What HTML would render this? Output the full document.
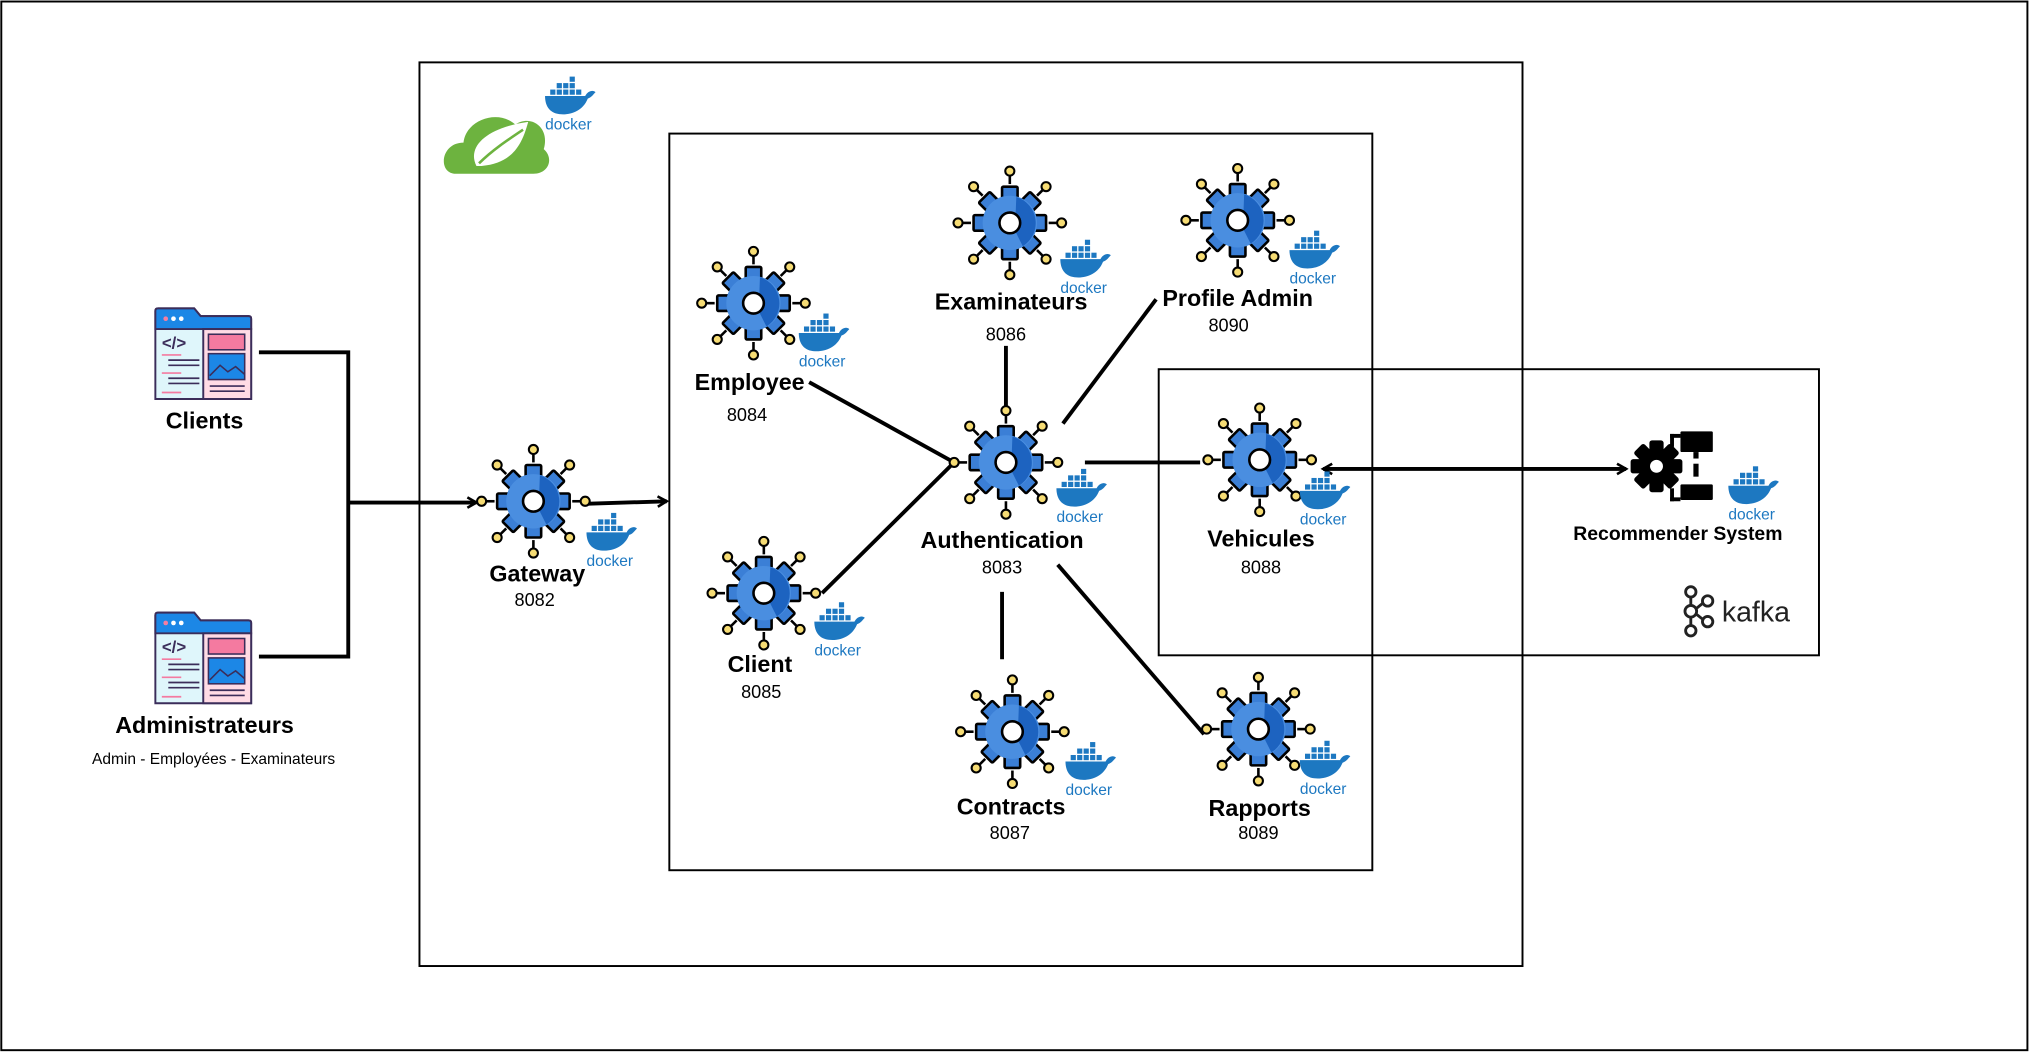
<!DOCTYPE html>
<html><head><meta charset="utf-8"><style>
html,body{margin:0;padding:0;background:#fff;}
svg{display:block;}
text{font-family:"Liberation Sans","DejaVu Sans",sans-serif;fill:#000;}
.b{font-weight:bold;font-size:18px;}
.n{font-size:14px;}
.d{font-size:12px;fill:#1d78c1;}
</style></head><body>
<svg width="2030" height="1053" viewBox="0 0 1568 813" xmlns="http://www.w3.org/2000/svg">
<defs>
<marker id="ah" markerWidth="10" markerHeight="10" refX="8" refY="5" orient="auto" markerUnits="userSpaceOnUse">
<path d="M1,1 L8,5 L1,9" fill="none" stroke="#000" stroke-width="2"/></marker>
<marker id="ahs" markerWidth="10" markerHeight="10" refX="2" refY="5" orient="auto" markerUnits="userSpaceOnUse">
<path d="M9,1 L2,5 L9,9" fill="none" stroke="#000" stroke-width="2"/></marker>
<g id="gear">
  <g stroke="#000" stroke-width="2">
    <line x1="0" y1="-30" x2="0" y2="-40"/><line x1="0" y1="30" x2="0" y2="40"/>
    <line x1="-30" y1="0" x2="-40" y2="0"/><line x1="30" y1="0" x2="40" y2="0"/>
    <line x1="21" y1="-21" x2="28" y2="-28"/><line x1="-21" y1="-21" x2="-28" y2="-28"/>
    <line x1="21" y1="21" x2="28" y2="28"/><line x1="-21" y1="21" x2="-28" y2="28"/>
  </g>
  <g fill="#f6dc74" stroke="#000" stroke-width="1.6">
    <circle cx="0" cy="-40" r="3.5"/><circle cx="0" cy="40" r="3.5"/><circle cx="-40" cy="0" r="3.5"/><circle cx="40" cy="0" r="3.5"/>
    <circle cx="28" cy="-28" r="3.5"/><circle cx="-28" cy="-28" r="3.5"/><circle cx="28" cy="28" r="3.5"/><circle cx="-28" cy="28" r="3.5"/>
  </g>
  <g fill="#3b7fd6" stroke="#000" stroke-width="2">
    <rect x="-6" y="-28" width="12" height="56" rx="1"/>
    <rect x="-6" y="-28" width="12" height="56" rx="1" transform="rotate(45)"/>
    <rect x="-6" y="-28" width="12" height="56" rx="1" transform="rotate(90)"/>
    <rect x="-6" y="-28" width="12" height="56" rx="1" transform="rotate(135)"/>
    <circle r="21" stroke="none"/>
  </g>
  <circle r="21" fill="#4a8ee0"/>
  <path d="M5,-20 A21,21 0 0 1 10,18 L4,6 Z" fill="#1d63c0"/>
  <circle r="8" fill="#fff" stroke="#000" stroke-width="2"/>
</g>
<g id="dk">
  <path d="M-17,-2 L14,-2 C16,-6 20,-7 22,-5 C20,-3 19,-1 16,0 C12,10 2,13 -6,12 C-14,11 -17,5 -17,-2Z" fill="#1d78c1"/>
  <g fill="#1d78c1">
    <rect x="-13" y="-7" width="4" height="4"/><rect x="-8" y="-7" width="4" height="4"/><rect x="-3" y="-7" width="4" height="4"/><rect x="2" y="-7" width="4" height="4"/><rect x="7" y="-7" width="4" height="4"/>
    <rect x="-8" y="-12" width="4" height="4"/><rect x="-3" y="-12" width="4" height="4"/><rect x="2" y="-12" width="4" height="4"/><rect x="2" y="-17" width="4" height="4"/>
  </g>
  <text x="1" y="24" text-anchor="middle" class="d">docker</text>
</g>
<g id="web">
  <path d="M0,2 Q0,0 2,0 L30,0 L35,6 L72,6 Q74,6 74,8 L74,70 L0,70 Z" fill="#dff6fb" stroke="#3b2d5a" stroke-width="1.5"/>
  <path d="M0,2 Q0,0 2,0 L30,0 L35,6 L72,6 Q74,6 74,8 L74,16 L0,16 Z" fill="#1c87e6" stroke="#3b2d5a" stroke-width="1.5"/>
  <circle cx="8" cy="8" r="1.8" fill="#f57ea1"/><circle cx="14" cy="8" r="1.8" fill="#fff"/><circle cx="20" cy="8" r="1.8" fill="#fff"/>
  <rect x="37" y="16" width="37" height="54" fill="#ffdbe5" stroke="#3b2d5a" stroke-width="1.5"/>
  <rect x="41" y="20" width="28" height="12" fill="#f47aa0" stroke="#3b2d5a" stroke-width="1.2"/>
  <rect x="41" y="35" width="28" height="20" fill="#1c87e6" stroke="#3b2d5a" stroke-width="1.2"/>
  <path d="M42,52 L50,44 L56,49 L62,45 L69,51" fill="none" stroke="#3b2d5a" stroke-width="1.2"/>
  <text x="5" y="31" style="font-size:13px;font-weight:bold;fill:#3b2d5a">&lt;/&gt;</text>
  <g stroke="#3b2d5a" stroke-width="1.3"><line x1="10" y1="40" x2="34" y2="40"/><line x1="10" y1="44" x2="34" y2="44"/><line x1="10" y1="54" x2="34" y2="54"/><line x1="10" y1="58" x2="34" y2="58"/><line x1="42" y1="60" x2="69" y2="60"/><line x1="42" y1="64" x2="69" y2="64"/></g>
  <g stroke="#f47aa0" stroke-width="1.3"><line x1="5" y1="36" x2="20" y2="36"/><line x1="5" y1="50" x2="20" y2="50"/><line x1="5" y1="65" x2="20" y2="65"/></g>
</g>
</defs>

<rect x="1" y="1" width="1565" height="810" fill="none" stroke="#000" stroke-width="1.5"/>
<rect x="324" y="48" width="852" height="698" fill="none" stroke="#000" stroke-width="1.5"/>
<rect x="517" y="103" width="543" height="569" fill="none" stroke="#000" stroke-width="1.5"/>
<rect x="895" y="285" width="510" height="221" fill="none" stroke="#000" stroke-width="1.5"/>

<!-- spring cloud -->
<g>
  <path d="M352,134 C338,134 340,110 358,110 C360,92 385,84 398,96 C410,88 425,98 420,115 C428,122 424,134 412,134 Z" fill="#6db33f"/>
  <path d="M368,128 C360,112 378,98 408,94 C404,108 398,126 372,128Z" fill="#fff"/>
  <path d="M370,126 C380,116 392,108 404,100" stroke="#6db33f" stroke-width="2" fill="none"/>
</g>
<use href="#dk" x="438" y="76"/>

<!-- web icons -->
<use href="#web" x="120" y="238"/>
<use href="#web" x="120" y="473"/>
<text x="158" y="331" text-anchor="middle" class="b">Clients</text>
<text x="158" y="566" text-anchor="middle" class="b">Administrateurs</text>
<text x="165" y="590" text-anchor="middle" style="font-size:12px">Admin - Employées  - Examinateurs</text>

<!-- lines -->
<g stroke="#000" stroke-width="3" fill="none">
  <polyline points="200,272 269,272 269,507 200,507"/>
  <line x1="269" y1="388" x2="368" y2="388" marker-end="url(#ah)"/>
  <line x1="452" y1="389" x2="515" y2="387" marker-end="url(#ah)"/>
  <line x1="625" y1="295" x2="737" y2="357"/>
  <line x1="635" y1="458" x2="737" y2="357"/>
  <line x1="777" y1="267" x2="777" y2="315"/>
  <line x1="893" y1="231" x2="821" y2="327"/>
  <line x1="838" y1="357" x2="927" y2="357"/>
  <line x1="774" y1="457" x2="774" y2="509"/>
  <line x1="817" y1="436" x2="930" y2="567"/>
  <line x1="1022" y1="362" x2="1256" y2="362" marker-start="url(#ahs)" marker-end="url(#ah)"/>
</g>

<!-- gears -->
<use href="#gear" x="412" y="387"/><use href="#dk" x="470" y="413"/>
<use href="#gear" x="582" y="234"/><use href="#dk" x="634" y="259"/>
<use href="#gear" x="590" y="458"/><use href="#dk" x="646" y="482"/>
<use href="#gear" x="780" y="172"/><use href="#dk" x="836" y="202"/>
<use href="#gear" x="956" y="170"/><use href="#dk" x="1013" y="195"/>
<use href="#gear" x="777" y="357"/><use href="#dk" x="833" y="379"/>
<use href="#gear" x="973" y="355"/><use href="#dk" x="1021" y="381"/>
<use href="#gear" x="782" y="565"/><use href="#dk" x="840" y="590"/>
<use href="#gear" x="972" y="563"/><use href="#dk" x="1021" y="589"/>

<text x="415" y="449" text-anchor="middle" class="b">Gateway</text>
<text x="413" y="468" text-anchor="middle" class="n">8082</text>
<text x="579" y="301" text-anchor="middle" class="b">Employee</text>
<text x="577" y="325" text-anchor="middle" class="n">8084</text>
<text x="587" y="519" text-anchor="middle" class="b">Client</text>
<text x="588" y="539" text-anchor="middle" class="n">8085</text>
<text x="781" y="239" text-anchor="middle" class="b">Examinateurs</text>
<text x="777" y="263" text-anchor="middle" class="n">8086</text>
<text x="956" y="236" text-anchor="middle" class="b">Profile Admin</text>
<text x="949" y="256" text-anchor="middle" class="n">8090</text>
<text x="774" y="423" text-anchor="middle" class="b">Authentication</text>
<text x="774" y="443" text-anchor="middle" class="n">8083</text>
<text x="974" y="422" text-anchor="middle" class="b">Vehicules</text>
<text x="974" y="443" text-anchor="middle" class="n">8088</text>
<text x="781" y="629" text-anchor="middle" class="b">Contracts</text>
<text x="780" y="648" text-anchor="middle" class="n">8087</text>
<text x="973" y="630" text-anchor="middle" class="b">Rapports</text>
<text x="972" y="648" text-anchor="middle" class="n">8089</text>

<!-- recommender -->
<g>
  <g fill="#000">
    <rect x="1274" y="340" width="11" height="40" rx="2"/>
    <rect x="1274" y="340" width="11" height="40" rx="2" transform="rotate(45 1279.5 360)"/>
    <rect x="1274" y="340" width="11" height="40" rx="2" transform="rotate(90 1279.5 360)"/>
    <rect x="1274" y="340" width="11" height="40" rx="2" transform="rotate(135 1279.5 360)"/>
    <circle cx="1279.5" cy="360" r="14"/>
    <rect x="1298" y="333" width="25" height="16" rx="1"/>
    <rect x="1298" y="374" width="25" height="12" rx="1"/>
    <rect x="1308" y="349" width="4" height="5"/>
    <rect x="1308" y="358" width="4" height="10"/>
    <rect x="1290" y="335" width="3" height="10"/><rect x="1290" y="335" width="8" height="3"/>
    <rect x="1290" y="377" width="3" height="10"/><rect x="1290" y="384" width="8" height="3"/>
  </g>
  <circle cx="1279.5" cy="360" r="5" fill="#fff"/>
</g>
<use href="#dk" x="1352" y="377"/>
<text x="1296" y="417" text-anchor="middle" style="font-size:15px;font-weight:bold">Recommender System</text>
<g fill="none" stroke="#222" stroke-width="2.2">
  <circle cx="1306" cy="457" r="4"/><circle cx="1306" cy="472" r="4.5"/><circle cx="1306" cy="487" r="4"/>
  <circle cx="1319" cy="464" r="4"/><circle cx="1319" cy="480" r="4"/>
  <line x1="1306" y1="461" x2="1306" y2="467"/><line x1="1306" y1="477" x2="1306" y2="483"/>
  <line x1="1310" y1="470" x2="1315" y2="466"/><line x1="1310" y1="474" x2="1315" y2="478"/>
</g>
<text x="1330" y="480" style="font-size:22px;fill:#222">kafka</text>
</svg>
</body></html>
